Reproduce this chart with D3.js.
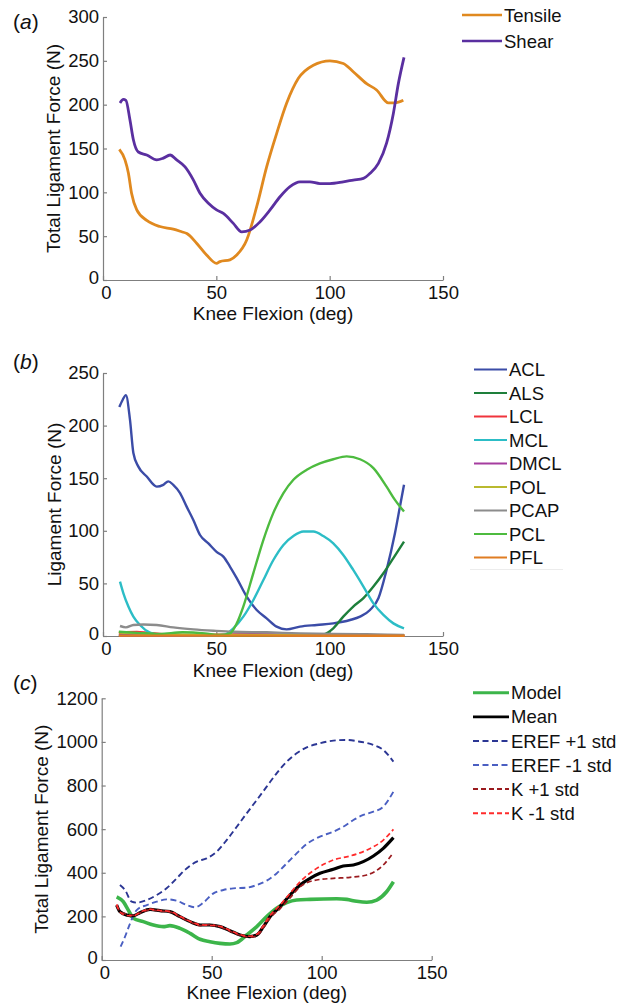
<!DOCTYPE html>
<html>
<head>
<meta charset="utf-8">
<script src="https://cdn.jsdelivr.net/npm/d3@7"></script>
<style>
  body { margin: 0; background: #fff; }
  text { font-family: "Liberation Sans", Arial, sans-serif; fill: #111; }
</style>
</head>
<body>
<svg id="chart" width="625" height="1005"></svg>
<script>
// ---- data, [knee flexion deg, force N] ----
var xTicks = [0, 50, 100, 150];
var ticksA = [0, 50, 100, 150, 200, 250, 300];
var ticksB = [0, 50, 100, 150, 200, 250];
var ticksC = [0, 200, 400, 600, 800, 1000, 1200];

var tensile = [[7.2,149],[9.7,137],[11.2,122],[12.6,99],[14.9,80],[19.3,68],[25.1,61],[31,58],[34.7,55],[37,53],[41.3,42],[45.7,28.5],[50.1,19],[51.6,21],[56,23],[59,28.5],[63.4,45.6],[67.8,83.6],[72.2,129],[76.6,167],[81,201.5],[86.2,230],[92.8,245],[100.1,250],[106,247],[110.4,237.6],[116.3,224],[120.7,216.7],[125.9,202],[128.8,202],[132.5,205]];
var shear = [[7.5,202],[9,206],[10.1,205],[11.9,182.5],[13.4,160],[15.6,146],[19.3,142.6],[23.7,137],[26.6,139],[29.6,142.6],[32.5,137],[36.2,129],[39.9,114],[42.8,99],[46.5,87.5],[50.1,80],[53.1,76],[57.5,64.6],[61.2,55],[64.9,57],[69.3,66.5],[73.7,80],[78.1,95],[82.5,106.5],[86.9,112],[91.3,112],[95.7,110],[100.1,110],[106,112],[110.4,114],[114.9,116],[117.8,121.7],[121.5,133],[125.1,156],[128.1,190],[130.3,224],[132.8,254]];

var acl = [[7.2,217.6],[8.7,224.6],[10.1,229],[11.9,205.6],[13.4,174],[15.6,161],[19.3,151.6],[23.7,142],[26.6,143.7],[28.8,147],[31,143.7],[34,135.8],[36.9,123],[39.9,110],[42.8,96],[46.5,88],[50.1,80],[53.1,75.5],[56,66],[59,55],[63.4,37.4],[67.8,24.7],[72.2,16.8],[76.6,8.9],[81,6.3],[86.9,8.9],[94.3,10.5],[101.6,12],[109,15.2],[113.4,18.4],[117.8,24.7],[121.5,35.9],[125.1,62.8],[128.8,97.7],[131,123],[132.8,143.7]];
var als = [[7,0.5],[40,0.4],[80,0.5],[94,0.8],[97.2,1.5],[101.6,7.3],[106,18.4],[110.4,28],[114.9,36],[119.3,47],[123.7,59.6],[128.1,74],[132.8,89.8]];
var lcl = [[7,3],[10,3.5],[15,3.8],[20,3],[30,1.5],[40,1],[60,1.5],[80,1],[100,0.5],[133,0.3]];
var mcl = [[7.5,51.7],[9,40.6],[11.2,28],[13.4,18.4],[16.3,10.5],[20.7,3.2],[25.1,1],[40,0.5],[53.1,1],[57.5,7.3],[61.9,18.4],[66.3,34],[70.7,53],[75.1,72],[79.6,86.6],[84,95],[88.4,99.3],[92.8,99.3],[97.2,95],[101.6,88],[106,77],[110.4,62.8],[114.9,47],[119.3,31],[123.7,20],[128.1,12],[132.8,7.3]];
var dmcl = [[7,0.5],[30,0.5],[50,0.8],[65,1.8],[80,1.2],[100,0.5],[133,0.3]];
var pol = [[7,3.5],[15,2.5],[30,1.5],[50,1],[80,0.8],[133,0.5]];
var pcap = [[7.5,9.5],[10.1,8.2],[13.4,10.5],[17.8,11],[23.7,10.5],[31,8.2],[39.9,6.3],[48.7,5],[57.5,4],[72.2,3.5],[86.9,2.5],[101.6,1.9],[116.3,1.6],[132.8,1]];
var pcl = [[7,4],[15,3],[25,2],[35,3.5],[45,2.5],[51.6,1],[56,2.5],[59,12],[61.9,28],[66.3,59.6],[70.7,91],[75.1,116.8],[79.6,135.8],[84,148.5],[89.9,158],[95.7,164],[101.6,168],[107.5,170.7],[113.4,168],[119.3,159.6],[125.1,142],[128.8,129.4],[132.8,118.3]];
var pfl = [[7,0.4],[50,0.4],[100,0.3],[133,0.3]];

var model = [[6.8,290],[9.8,267.5],[12.1,229],[14.4,191],[18.9,176],[23.5,160.5],[28,153],[31,157.4],[35.6,145],[40.2,122],[44.7,95],[49.2,84],[53.8,76.4],[58.3,73.4],[61.4,79.5],[65.9,114.6],[70.5,153],[75,198.7],[79.5,237],[84.1,263],[88.6,275],[94.7,278],[100.8,280],[106.8,281],[111.4,278],[115.9,269],[120.5,264.5],[125,275],[129.5,313],[132.6,359]];
var mean = [[6.8,252],[8.3,221.6],[11.4,206],[14.4,203],[17.4,217],[22,232],[26.5,226],[31,221.6],[35.6,198.7],[40.2,176],[44.7,160.5],[49.2,160.5],[53.8,153],[58.3,134.5],[62.9,114.6],[67.4,107],[70.5,114.6],[73.5,153],[76.5,198.7],[81.1,244.6],[85.6,298],[90.2,344],[94.7,374.5],[99.2,397.4],[105.3,415.8],[109.8,431],[114.4,435.6],[118.9,451],[123.5,477],[128,512],[132.6,561]];
var erefPlus = [[8.3,344],[10.6,321],[13.6,267.5],[15.9,263],[20.5,275],[25,298],[29.5,328.6],[34.1,374.5],[38.6,420],[43.2,451],[47.7,466],[52.3,497],[56.8,550],[61.4,611],[65.9,672.6],[70.5,733.7],[75,795],[79.5,856],[84.1,909.5],[88.6,947.7],[93.2,975],[99.2,993.6],[105.3,1006],[111.4,1009],[117.4,1001],[123.5,986],[128,963],[132.6,909.5]];
var erefMinus = [[8.6,61],[10.6,107],[12.9,168],[15.9,229],[20.5,252],[25,267.5],[29.5,278],[34.1,272],[38.6,252],[42.4,241.5],[46.2,263],[50.8,305.7],[55.3,321],[59.8,328.6],[65.9,331.7],[70.5,344],[75,364],[79.5,397],[84.1,443],[88.6,489],[93.2,532],[99.2,565.6],[105.3,588.5],[109.8,611],[114.4,642],[118.9,665],[123.5,680],[128,703],[132.6,772]];
var kPlus = [[6.8,248],[8.3,224],[11.4,210],[14.4,205],[17.4,215],[22,230],[26.5,224],[31,220],[35.6,197],[40.2,175],[44.7,158],[49.2,162],[53.8,152],[58.3,132],[62.9,113],[67.4,105],[70.5,110],[73.5,148],[76.5,192],[81.1,236],[85.6,285],[90.2,336],[97.7,367],[105.3,374.5],[112.9,379],[120.5,390],[128,435.6],[132.6,492]];
var kMinus = [[6.8,255],[8.3,220],[11.4,204],[14.4,202],[17.4,219],[22,233],[26.5,227],[31,223],[35.6,200],[40.2,177],[44.7,162],[49.2,159],[53.8,154],[58.3,136],[62.9,116],[67.4,109],[70.5,118],[73.5,158],[76.5,204],[81.1,252],[85.6,306],[90.2,359],[97.7,420],[105.3,458.6],[112.9,477],[120.5,504],[128,550],[132.6,599]];

var namesA = ["Tensile", "Shear"];
var namesB = ["ACL", "ALS", "LCL", "MCL", "DMCL", "POL", "PCAP", "PCL", "PFL"];
var namesC = ["Model", "Mean", "EREF +1 std", "EREF -1 std", "K +1 std", "K -1 std"];

var svg = d3.select("#chart");
var axisGray = "#7f7f7f";

function panel(p) {
    var x = d3.scaleLinear().domain([0, 150]).range([p.left, p.right]);
    var y = d3.scaleLinear().domain([0, p.ymax]).range([p.bottom, p.top]);
    var g = svg.append("g");

    var ax = g.append("g")
        .attr("transform", "translate(0," + p.bottom + ")")
        .call(d3.axisBottom(x).tickValues(xTicks).tickFormat(d3.format("d")).tickSize(-4).tickSizeOuter(0).tickPadding(6));
    var ay = g.append("g")
        .attr("transform", "translate(" + p.left + ",0)")
        .call(d3.axisLeft(y).tickValues(p.ticks).tickFormat(d3.format("d")).tickSize(-4).tickSizeOuter(0).tickPadding(4));
    [ax, ay].forEach(function (a) {
        a.select(".domain").attr("stroke", axisGray).attr("stroke-width", 1.2);
        a.selectAll(".tick line").attr("stroke", axisGray).attr("stroke-width", 1.2);
        a.selectAll(".tick text").style("font-size", "18.5px").style("font-family", "Liberation Sans, Arial, sans-serif").attr("fill", "#111");
    });
    // zero labels are nudged off the corner like matlab does
    ay.selectAll(".tick text").filter(function (d) { return d === 0; }).attr("dy", "0.2em");
    ax.selectAll(".tick text").filter(function (d) { return d === 0; }).attr("dx", "0.15em");

    var line = d3.line()
        .x(function (d) { return x(d[0]); })
        .y(function (d) { return y(d[1]); })
        .curve(d3.curveMonotoneX);

    p.series.forEach(function (s) {
        g.append("path")
            .attr("d", line(s.data))
            .attr("fill", "none")
            .attr("stroke", s.color)
            .attr("stroke-width", s.width)
            .attr("stroke-dasharray", s.dash || null)
            .attr("stroke-linejoin", "round");
    });

    g.append("text")
        .attr("x", (p.left + p.right) / 2)
        .attr("y", p.bottom + p.xlabOff)
        .attr("text-anchor", "middle")
        .style("font-size", "19px")
        .text("Knee Flexion (deg)");
    g.append("text")
        .attr("transform", "translate(" + p.ylabX + "," + ((p.top + p.bottom) / 2) + ") rotate(-90)")
        .attr("text-anchor", "middle")
        .style("font-size", "19px")
        .text(p.ylabel);
    g.append("text")
        .attr("x", 13)
        .attr("y", p.tagY)
        .style("font-size", "21px")
        .html("(<tspan font-style='italic'>" + p.tag + "</tspan>)");

    // legend
    p.legendOrder.forEach(function (s, i) {
        var ly = p.legY + i * p.legStep;
        g.append("line")
            .attr("x1", p.legX).attr("x2", p.legX + p.legLen)
            .attr("y1", ly).attr("y2", ly)
            .attr("stroke", s.color)
            .attr("stroke-width", s.legW || 2.5)
            .attr("stroke-dasharray", s.dash || null);
        g.append("text")
            .attr("x", p.legX + p.legLen + 2)
            .attr("y", ly)
            .attr("dy", "0.36em")
            .style("font-size", "18.5px")
            .text(s.name);
    });
}

var seriesA = [
    { name: namesA[0], data: tensile, color: "#e0891f", width: 2.8 },
    { name: namesA[1], data: shear, color: "#5a2fa0", width: 2.8 }
];
panel({
    left: 103, right: 443, top: 17, bottom: 280, ymax: 300, ticks: ticksA,
    ylabel: "Total Ligament Force (N)", ylabX: 60, xlabOff: 40, tag: "a", tagY: 29,
    series: seriesA, legendOrder: seriesA,
    legX: 462, legLen: 40, legY: 15, legStep: 26
});

var colorsB = ["#3b4ca7", "#1e7f3b", "#f0343c", "#2cbdc6", "#a53d9f", "#b9b92f", "#8c8c8c", "#4dbb3f", "#e07d22"];
var dataB = [acl, als, lcl, mcl, dmcl, pol, pcap, pcl, pfl];
var seriesB = namesB.map(function (n, i) {
    return { name: n, data: dataB[i], color: colorsB[i], width: 2.4, legW: 2 };
});
// faint legend box edge
svg.append("line").attr("x1", 470).attr("x2", 563).attr("y1", 569.5).attr("y2", 569.5)
    .attr("stroke", "#ececec").attr("stroke-width", 1);
panel({
    left: 103, right: 443, top: 373, bottom: 636, ymax: 250, ticks: ticksB,
    ylabel: "Ligament Force (N)", ylabX: 61, xlabOff: 41, tag: "b", tagY: 369,
    series: seriesB, legendOrder: seriesB,
    legX: 474, legLen: 33, legY: 369.5, legStep: 23.5
});

var seriesC = [
    { name: namesC[2], data: erefPlus, color: "#2b3694", width: 1.9, dash: "6,3.5", legW: 2 },
    { name: namesC[3], data: erefMinus, color: "#4a5fc2", width: 1.9, dash: "6,3.5", legW: 2 },
    { name: namesC[4], data: kPlus, color: "#9a1a1e", width: 1.7, dash: "5,3", legW: 2 },
    { name: namesC[5], data: kMinus, color: "#ff2b2b", width: 1.7, dash: "5,3", legW: 2 },
    { name: namesC[0], data: model, color: "#3cb54a", width: 3.6, legW: 3 },
    { name: namesC[1], data: mean, color: "#000000", width: 3.2, legW: 2.8 }
];
// the K bands are drawn over the mean so the dashes show on top of it
var drawC = [seriesC[4], seriesC[0], seriesC[1], seriesC[5], seriesC[2], seriesC[3]];
panel({
    left: 101.7, right: 431.7, top: 698.3, bottom: 960, ymax: 1200, ticks: ticksC,
    ylabel: "Total Ligament Force (N)", ylabX: 48, xlabOff: 39, tag: "c", tagY: 690,
    series: drawC,
    legendOrder: [seriesC[4], seriesC[5], seriesC[0], seriesC[1], seriesC[2], seriesC[3]],
    legX: 473, legLen: 36, legY: 692.7, legStep: 24.1
});
</script>
</body>
</html>
